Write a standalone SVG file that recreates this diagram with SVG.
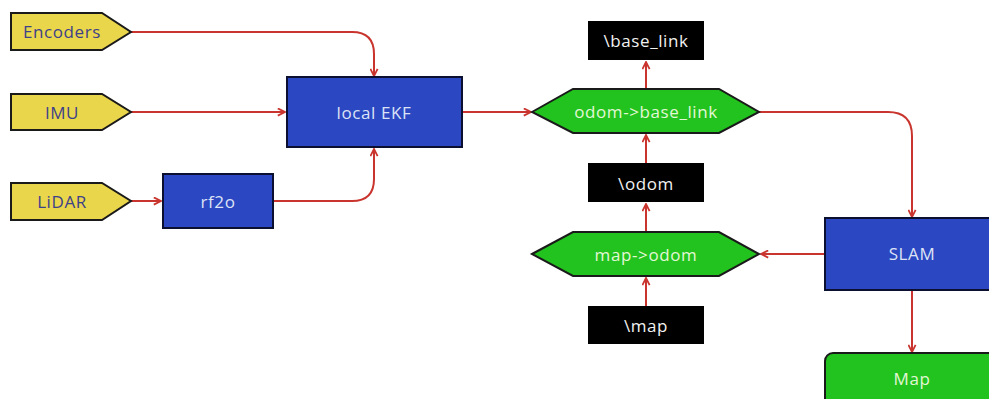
<svg xmlns="http://www.w3.org/2000/svg" width="989" height="399" viewBox="0 0 989 399">
<defs>
<marker id="ah" viewBox="0 0 10 10" refX="9" refY="5" markerWidth="9" markerHeight="9" markerUnits="userSpaceOnUse" orient="auto">
<path d="M1,1 L9,5 L1,9" fill="none" stroke="#c9352e" stroke-width="2"/>
</marker>
<style>
.in{fill:#ead64a;stroke:#1a1a1a;stroke-width:2}
.bl{fill:#2b47c1;stroke:#0c1030;stroke-width:2}
.gr{fill:#22c31e;stroke:#1a1a1a;stroke-width:2}
.fr{fill:#000}
.e{fill:none;stroke:#c9352e;stroke-width:2;marker-end:url(#ah)}
text{font-family:"Open Sans","Noto Sans",sans-serif;font-size:17px;letter-spacing:0.6px;text-anchor:middle;dominant-baseline:central}
.ti{fill:#3d4189}
.tb{fill:#dde3f6}
.tg{fill:#e3f7d6}
.tk{fill:#f2f2f2}
</style>
</defs>
<rect width="989" height="399" fill="#fff"/>
<g id="connectors">
<path class="e" d="M131,32 H352 Q374,32 374,54 V76"/>
<path class="e" d="M131,112 H285"/>
<path class="e" d="M131,201 H161"/>
<path class="e" d="M273,201 H352 Q374,201 374,179 V149"/>
<path class="e" d="M462,112 H531"/>
<path class="e" d="M646,89 V62"/>
<path class="e" d="M646,163 V135"/>
<path class="e" d="M646,232 V204"/>
<path class="e" d="M646,306 V278"/>
<path class="e" d="M759,112 H888 Q912,112 912,136 V217"/>
<path class="e" d="M825,254 H761"/>
<path class="e" d="M912,290 V352"/>
</g>
<g id="encoders"><path class="in" d="M11,13 H102 L131,32 L102,50 H11 Z"/><text class="ti" x="62" y="31">Encoders</text></g>
<g id="imu"><path class="in" d="M11,94 H102 L131,112 L102,130 H11 Z"/><text class="ti" x="62" y="112">IMU</text></g>
<g id="lidar"><path class="in" d="M11,183 H102 L131,201 L102,220 H11 Z"/><text class="ti" x="62" y="201">LiDAR</text></g>
<g id="rf2o"><rect class="bl" x="163" y="174" width="110" height="54"/><text class="tb" x="218" y="201">rf2o</text></g>
<g id="local_ekf"><rect class="bl" x="287" y="77" width="175" height="70"/><text class="tb" x="374" y="112">local EKF</text></g>
<g id="odom_base_link"><path class="gr" d="M532,112 L573,89 H719 L759,112 L719,133 H573 Z"/><text class="tg" x="646" y="111">odom-&gt;base_link</text></g>
<g id="base_link"><rect class="fr" x="588" y="21" width="116" height="39"/><text class="tk" x="646" y="40">\base_link</text></g>
<g id="odom"><rect class="fr" x="588" y="163" width="116" height="39"/><text class="tk" x="646" y="183">\odom</text></g>
<g id="map_odom"><path class="gr" d="M532,254 L573,232 H719 L759,254 L719,276 H573 Z"/><text class="tg" x="646" y="254">map-&gt;odom</text></g>
<g id="map_frame"><rect class="fr" x="588" y="306" width="116" height="38"/><text class="tk" x="646" y="325">\map</text></g>
<g id="slam"><rect class="bl" x="825" y="218" width="175" height="72"/><text class="tb" x="912" y="253">SLAM</text></g>
<g id="map"><rect class="gr" x="825" y="353" width="175" height="60" rx="8"/><text class="tg" x="912" y="378">Map</text></g>
</svg>
